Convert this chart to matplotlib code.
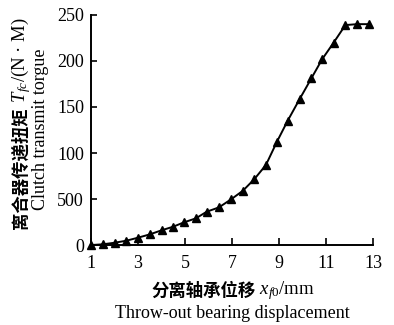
import matplotlib
matplotlib.use('Agg')
import matplotlib.pyplot as plt

plt.rcParams['font.family'] = ['Liberation Serif', 'Noto Sans CJK SC']
plt.rcParams['mathtext.fontset'] = 'custom'
plt.rcParams['mathtext.rm'] = 'Liberation Serif'
plt.rcParams['mathtext.it'] = 'Liberation Serif:italic'

# 分离轴承位移 (mm) / 传递扭矩 (N·M)
x = [1.0, 1.5, 2.0, 2.5, 3.0, 3.5, 4.0, 4.49, 4.96, 5.46, 5.92, 6.44, 6.96,
     7.46, 7.95, 8.44, 8.91, 9.36, 9.87, 10.37, 10.83, 11.32, 11.82, 12.32, 12.82]
torque = [0, 0.8, 2.5, 4.7, 8, 11.6, 16, 19.9, 24.7, 29, 36.2, 40.9, 49.7,
          59, 71.7, 87, 112.3, 134.8, 158.4, 181, 201.8, 219.9, 239, 240, 240]

xticks = [1, 3, 5, 7, 9, 11, 13]
yticks = [0, 50, 100, 150, 200, 250]
ytick_labels = ['0', '500', '100', '150', '200', '250']

fig = plt.figure(figsize=(3.94, 3.25), dpi=100)
ax = fig.add_axes([0.231, 0.246, 0.716, 0.708])

ax.plot(x, torque, color='black', lw=1.4, marker='^', ms=5.5, clip_on=False)

ax.set_xlim(1, 13)
ax.set_ylim(0, 250)
ax.set_xticks(xticks)
ax.set_yticks(yticks)
ax.set_yticklabels(ytick_labels)
ax.tick_params(direction='in', labelsize=13, width=1.2)
ax.tick_params(axis='x', length=5, pad=7)
ax.tick_params(axis='y', length=4, pad=5)
for s in ['top', 'right']:
    ax.spines[s].set_visible(False)
for s in ['left', 'bottom']:
    ax.spines[s].set_linewidth(1.4)

cjk = dict(family='Noto Sans CJK SC', weight='bold')

# x label, two lines
t1 = fig.text(151 / 394, 1 - 291 / 325, '分离轴承位移', ha='left', va='center',
              fontsize=12.5, **cjk)
ax.annotate(' $x_{f0}$/mm', xy=(1, 0.5), xycoords=t1, ha='left', va='center',
            fontsize=13.5)
fig.text(0.59, 1 - 313 / 325, 'Throw-out bearing displacement', ha='center',
         va='center', fontsize=13)

# y label, two lines
t2 = fig.text(21 / 394, 1 - 229 / 325, '离合器传递扭矩', ha='center', va='bottom',
              rotation=90, fontsize=12.5, **cjk)
ax.annotate(' $T_{fc}$/(N · M)', xy=(0.5, 1), xycoords=t2, ha='center',
            va='bottom', rotation=90, fontsize=13.5)
fig.text(41 / 394, 1 - 129 / 325, 'Clutch transmit torgue', ha='center',
         va='center', rotation=90, fontsize=13)

fig.savefig('out.png', dpi=100)
